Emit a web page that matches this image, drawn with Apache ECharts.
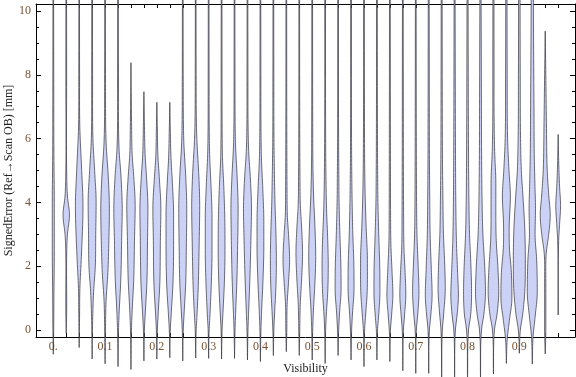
<!DOCTYPE html>
<html>
<head>
<meta charset="utf-8">
<script src="https://cdn.jsdelivr.net/npm/echarts@6/dist/echarts.min.js"></script>
<style>
  html, body { margin: 0; padding: 0; background: #fff; }
  #chart { width: 576px; height: 377px; }
</style>
</head>
<body>
<div id="chart"></div>
<script>
// violin positions (Visibility)
const visibility = [
  0, 0.025, 0.05, 0.075, 0.1, 0.125, 0.15, 0.175, 0.2, 0.225,
  0.25, 0.275, 0.3, 0.325, 0.35, 0.375, 0.4, 0.425, 0.45, 0.475,
  0.5, 0.525, 0.55, 0.575, 0.6, 0.625, 0.65, 0.675, 0.7, 0.725,
  0.75, 0.775, 0.8, 0.825, 0.85, 0.875, 0.9, 0.925, 0.95, 0.975
];

// density profile of each violin: [signed error (mm), density]
const profiles = [
  [[-0.76,0],[0,0.4],[1.0,0.6],[2.5,1.0],[4.0,1.0],[5.5,0.6],[8,0.45],[11,0.3]],
  [[-0.1,0],[0.5,0.4],[2.5,0.5],[3.0,1.2],[3.6,3.2],[4.2,1.2],[4.8,0.5],[8,0.4],[11,0.3]],
  [[-0.55,0],[0.5,0.4],[1.3,0.7],[2.3,2.2],[3.9,3.8],[5.0,2.5],[6.4,0.6],[8,0.4],[11,0.3]],
  [[-0.91,0],[0.3,0.5],[1.2,1.5],[2.0,3.2],[3.0,3.6],[4.0,4.0],[5.0,2.5],[6.0,0.8],[8,0.45],[11,0.35]],
  [[-1.06,0],[0,0.4],[0.9,1.0],[1.8,2.8],[2.8,3.8],[3.8,4.3],[4.8,3.2],[5.9,1.0],[8,0.45],[11,0.35]],
  [[-1.15,0],[0,0.5],[0.6,1.2],[1.6,2.8],[2.8,3.6],[3.8,4.2],[4.8,3.0],[5.7,1.0],[8,0.45],[11,0.35]],
  [[-1.24,0],[0,0.5],[0.6,1.2],[1.6,2.8],[2.8,3.5],[3.9,4.2],[4.8,2.8],[5.5,1.2],[6.5,0.6],[8.38,0]],
  [[-0.97,0],[0,0.5],[0.5,1.3],[1.5,3.0],[2.8,3.6],[3.8,4.0],[4.8,2.6],[5.5,1.2],[6.5,0.5],[7.47,0]],
  [[-0.91,0],[0,0.5],[0.5,1.3],[1.5,3.0],[2.8,3.5],[3.8,4.0],[4.8,2.4],[5.5,1.0],[6.3,0.5],[7.14,0]],
  [[-0.87,0],[0,0.5],[0.5,1.4],[1.5,3.2],[2.8,3.8],[3.6,3.8],[4.6,2.6],[5.4,1.2],[6.3,0.5],[7.14,0]],
  [[-0.97,0],[0,0.5],[0.5,1.3],[1.5,3.0],[2.6,3.6],[3.8,4.0],[4.8,3.0],[5.8,1.2],[6.4,0.7],[8,0.45],[11,0.35]],
  [[-0.88,0],[0,0.5],[0.4,1.2],[1.4,2.6],[2.6,3.4],[3.9,4.0],[4.8,3.2],[5.9,1.3],[6.5,0.7],[8,0.45],[11,0.35]],
  [[-0.89,0],[0,0.5],[0.4,1.2],[1.4,2.6],[2.5,3.4],[3.5,3.4],[4.5,2.4],[5.5,1.0],[6.2,0.6],[8,0.45],[11,0.35]],
  [[-0.91,0],[0,0.5],[0.5,1.3],[1.5,2.8],[2.5,3.4],[3.5,3.2],[4.5,2.2],[5.4,0.9],[6,0.6],[8,0.45],[11,0.35]],
  [[-0.89,0],[0,0.5],[0.6,1.2],[1.6,2.4],[2.8,3.2],[3.8,3.6],[4.8,2.6],[5.8,1.0],[6.5,0.6],[8,0.45],[11,0.35]],
  [[-0.94,0],[0,0.5],[0.6,1.2],[1.6,2.4],[2.8,3.4],[3.8,4.0],[4.7,3.0],[5.6,1.2],[6.4,0.6],[8,0.45],[11,0.35]],
  [[-0.99,0],[0,0.5],[0.6,1.2],[1.6,2.6],[2.6,3.4],[3.4,3.4],[4.4,2.4],[5.4,1.0],[6.2,0.6],[8,0.45],[11,0.35]],
  [[-0.8,0],[0,0.5],[0.5,1.2],[1.4,2.6],[2.2,3.0],[3.0,2.6],[4.0,1.6],[5.0,1.0],[6,0.6],[8,0.45],[11,0.35]],
  [[-0.68,0],[0,0.5],[0.8,0.8],[1.5,2.2],[2.2,3.3],[3.0,2.2],[3.6,1.0],[4.5,0.7],[6,0.5],[8,0.4],[11,0.35]],
  [[-0.8,0],[0,0.5],[0.8,1.0],[1.6,2.4],[2.4,3.3],[3.2,2.4],[3.9,1.1],[4.8,0.7],[6,0.5],[8,0.4],[11,0.35]],
  [[-0.94,0],[0,0.5],[0.6,1.2],[1.4,2.6],[2.3,3.5],[3.2,2.8],[4.2,1.4],[5.2,0.7],[6.5,0.5],[11,0.35]],
  [[-1.05,0],[0,0.5],[0.5,1.2],[1.2,2.6],[2.0,3.1],[2.8,2.6],[3.8,1.4],[4.8,0.8],[6,0.5],[11,0.35]],
  [[-0.8,0],[0,0.6],[0.5,1.4],[1.3,3.0],[2.0,2.8],[3.0,1.8],[4.0,1.0],[5,0.7],[6,0.5],[11,0.35]],
  [[-0.94,0],[0,0.6],[0.5,1.4],[1.3,3.0],[2.1,2.8],[3.0,1.8],[4.0,1.1],[5,0.7],[6,0.5],[11,0.35]],
  [[-1.15,0],[0,0.6],[0.4,1.5],[1.2,3.2],[2.2,3.4],[3.2,2.2],[4.2,1.2],[5.2,0.7],[6.5,0.5],[11,0.35]],
  [[-0.94,0],[0,0.6],[0.4,1.6],[1.2,3.0],[2.0,2.8],[3.0,1.8],[4.0,1.0],[5,0.7],[6.5,0.5],[11,0.35]],
  [[-0.99,0],[0,0.6],[0.5,1.8],[1.1,3.0],[1.8,2.2],[2.7,1.0],[3.6,0.7],[5,0.6],[7,0.5],[11,0.35]],
  [[-1.28,0],[0,0.6],[0.5,1.8],[1.1,3.0],[1.8,2.3],[2.6,1.1],[3.5,0.8],[5,0.6],[7,0.5],[11,0.35]],
  [[-1.36,0],[0,0.6],[0.5,2.0],[1.2,3.2],[2.0,2.4],[3.0,1.2],[4.0,0.8],[5.5,0.6],[7,0.5],[11,0.35]],
  [[-1.36,0],[0,0.7],[0.5,2.2],[1.1,3.4],[1.9,2.6],[3.0,1.4],[4.2,1.0],[5.5,0.7],[7,0.6],[11,0.45]],
  [[-1.6,0],[0,0.7],[0.5,2.0],[1.3,3.6],[2.1,3.0],[3.0,1.8],[4.2,1.2],[5.5,0.8],[7.5,0.6],[11,0.45]],
  [[-1.6,0],[0,0.8],[0.5,2.6],[1.1,3.8],[1.8,3.0],[2.8,1.8],[4.0,1.2],[5.5,0.9],[7.5,0.7],[11,0.45]],
  [[-1.6,0],[0,1.0],[0.5,3.2],[1.2,4.0],[2.0,3.4],[3.0,2.0],[4.2,1.3],[6,0.9],[8,0.7],[11,0.5]],
  [[-1.5,0],[0,1.0],[0.5,3.4],[1.2,5.0],[2.0,4.2],[3.0,2.4],[4.0,1.6],[5.5,1.1],[7.5,0.9],[9.5,0.7],[11,0.5]],
  [[-1.38,0],[0,1.0],[0.5,3.6],[1.2,5.3],[2.0,4.4],[2.8,2.8],[3.6,2.4],[4.6,2.4],[5.6,1.2],[6.5,0.7],[8.5,0.6],[11,0.5]],
  [[-1.05,0],[-0.3,0.8],[0.3,3.0],[1.0,5.5],[1.8,5.0],[2.6,3.0],[3.2,2.8],[4.2,4.0],[5.0,2.6],[6.0,1.2],[8,0.8],[11,0.6]],
  [[-0.73,0],[0,1.0],[0.5,3.4],[1.3,5.6],[2.2,6.0],[3.2,5.4],[4.2,3.6],[5.0,2.0],[6,1.2],[8,0.9],[11,0.7]],
  [[-1.07,0],[-0.2,0.8],[0.4,2.8],[1.2,5.0],[2.2,4.4],[3.0,2.8],[3.8,3.2],[4.6,2.6],[5.5,2.0],[7,1.7],[9,1.3],[11,1.0]],
  [[-0.75,0],[0,0.6],[1.5,0.6],[2.4,1.0],[3.0,3.5],[3.6,5.0],[4.2,3.6],[5.0,2.0],[6.5,1.2],[8,0.6],[9.37,0]],
  [[0.47,0],[2.8,0.5],[3.3,1.4],[3.9,2.4],[4.5,1.4],[5.2,0.6],[6.13,0]]
];

// axis ticks and labels
const xLabelValues = [0, 0.1, 0.2, 0.3, 0.4, 0.5, 0.6, 0.7, 0.8, 0.9];
const yMajor = [0, 2, 4, 6, 8, 10];
const yMinor = [0.5, 1, 1.5, 2.5, 3, 3.5, 4.5, 5, 5.5, 6.5, 7, 7.5, 8.5, 9, 9.5];

const PX_PER_DENSITY = 1;
const FONT = 'Liberation Serif, Times New Roman, serif';

// smooth the density knots (monotone Hermite) for drawing
function smoothProfile(k) {
  const n = k.length;
  const sl = [];
  for (let j = 0; j < n - 1; j++) sl.push((k[j + 1][1] - k[j][1]) / (k[j + 1][0] - k[j][0]));
  const m = k.map((_, j) => {
    if (j === 0) return sl[0];
    if (j === n - 1) return sl[n - 2];
    if (sl[j - 1] * sl[j] <= 0) return 0;
    return (sl[j - 1] + sl[j]) / 2;
  });
  const out = [];
  const steps = 8;
  for (let j = 0; j < n - 1; j++) {
    const [y0, w0] = k[j], [y1, w1] = k[j + 1];
    const h = y1 - y0;
    for (let s = 0; s < steps; s++) {
      const t = s / steps;
      const t2 = t * t, t3 = t2 * t;
      const w = (2 * t3 - 3 * t2 + 1) * w0 + (t3 - 2 * t2 + t) * h * m[j]
              + (-2 * t3 + 3 * t2) * w1 + (t3 - t2) * h * m[j + 1];
      out.push([y0 + t * h, Math.max(0, w)]);
    }
  }
  out.push(k[n - 1]);
  return out;
}

function renderItem(params, api) {
  const i = params.dataIndex;
  const x = visibility[i];
  const pts = smoothProfile(profiles[i]);
  const right = [], left = [];
  pts.forEach(([y, w]) => {
    const p = api.coord([x, y]);
    right.push([p[0] + w * PX_PER_DENSITY, p[1]]);
    left.push([p[0] - w * PX_PER_DENSITY, p[1]]);
  });
  return {
    type: 'polygon',
    shape: { points: right.concat(left.reverse()) },
    style: { fill: '#ccd2f5', stroke: 'rgba(55,55,65,0.72)', lineWidth: 1 }
  };
}

const chart = echarts.init(document.getElementById('chart'));

const hiddenLabel = { show: false };
const frameLine = { onZero: false, lineStyle: { color: '#000', width: 1 } };
chart.setOption({
  animation: false,
  grid: { left: 36, right: 1, top: 4, bottom: 40, outerBoundsMode: 'none', containLabel: false },
  xAxis: [
    {
      type: 'value', min: -0.0334, max: 1.0075,
      name: 'Visibility', nameLocation: 'middle', nameGap: 26, nameMoveOverlap: false,
      nameTextStyle: { fontFamily: FONT, fontSize: 12, color: '#222' },
      axisLine: frameLine,
      axisTick: { inside: true, length: 4, customValues: visibility, lineStyle: { color: '#000' } },
      axisLabel: {
        customValues: xLabelValues, margin: 4,
        fontFamily: FONT, fontSize: 12, color: '#7a5230',
        formatter: v => v === 0 ? '0.' : v.toFixed(1)
      },
      splitLine: { show: false }
    },
    {
      type: 'value', min: -0.0334, max: 1.0075, position: 'top',
      axisLine: frameLine,
      axisTick: { inside: true, length: 4, customValues: visibility, lineStyle: { color: '#000' } },
      axisLabel: hiddenLabel, splitLine: { show: false }
    }
  ],
  yAxis: [
    {
      type: 'value', min: -0.22, max: 10.22,
      name: 'SignedError (Ref\u2192Scan OB) [mm]', nameLocation: 'middle', nameGap: 21, nameMoveOverlap: false,
      nameTextStyle: { fontFamily: FONT, fontSize: 12, color: '#222' },
      axisLine: frameLine,
      axisTick: { inside: true, length: 5, customValues: yMajor, lineStyle: { color: '#000' } },
      axisLabel: { customValues: yMajor, margin: 5, fontFamily: FONT, fontSize: 12, color: '#7a5230' },
      splitLine: { show: false }
    },
    {
      type: 'value', min: -0.22, max: 10.22, position: 'right',
      axisLine: frameLine,
      axisTick: { inside: true, length: 5, customValues: yMajor, lineStyle: { color: '#000' } },
      axisLabel: hiddenLabel, splitLine: { show: false }
    },
    {
      type: 'value', min: -0.22, max: 10.22, position: 'left',
      axisLine: { show: false, onZero: false },
      axisTick: { inside: true, length: 3, customValues: yMinor, lineStyle: { color: '#000' } },
      axisLabel: hiddenLabel, splitLine: { show: false }
    },
    {
      type: 'value', min: -0.22, max: 10.22, position: 'right',
      axisLine: { show: false, onZero: false },
      axisTick: { inside: true, length: 3, customValues: yMinor, lineStyle: { color: '#000' } },
      axisLabel: hiddenLabel, splitLine: { show: false }
    }
  ],
  series: [{
    type: 'custom',
    renderItem: renderItem,
    clip: false,
    xAxisIndex: 0,
    yAxisIndex: 0,
    data: visibility.map((v, i) => [v, profiles[i][0][0]]),
    encode: { x: 0, y: 1 },
    z: 1
  }]
});
</script>
</body>
</html>
